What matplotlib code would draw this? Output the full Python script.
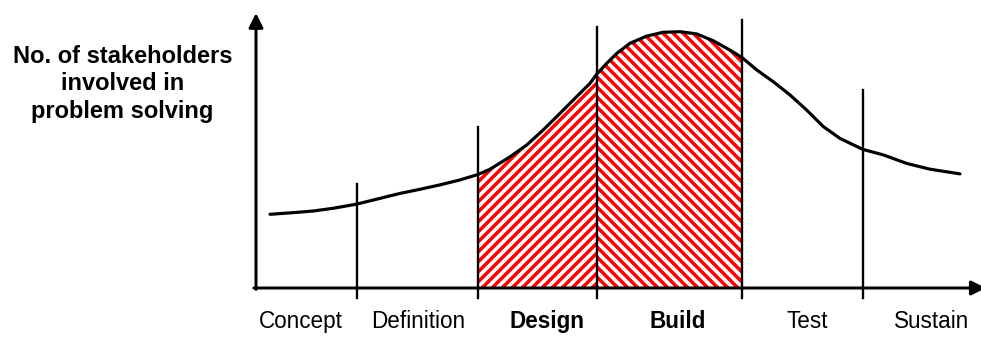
import numpy as np
import matplotlib.pyplot as plt

plt.rcParams['font.family'] = ['Liberation Sans', 'DejaVu Sans']
plt.rcParams['hatch.color'] = 'red'
plt.rcParams['hatch.linewidth'] = 2.1

# project timeline (0-100) and stakeholder involvement (0-100)
t = np.array([1.95, 5.19, 7.97, 10.76, 14.0, 16.79, 20.03, 22.81, 25.59, 28.37,
              30.9, 32.55, 35.33, 37.65, 39.96, 42.28, 44.60, 46.45, 47.4,
              48.78, 50.17, 52.02, 54.34, 56.65, 59.0, 61.29, 63.60, 65.92,
              67.6, 69.64, 71.95, 74.27, 76.59, 78.90, 81.22, 84.4, 87.25,
              90.50, 93.74, 97.91])
involvement = np.array([26.8, 27.4, 28.0, 29.0, 30.5, 32.3, 34.4, 35.9, 37.5, 39.3,
                        41.3, 43.2, 47.7, 52.0, 57.5, 63.5, 69.6, 74.4, 77.8,
                        81.7, 85.3, 89.0, 91.6, 93.0, 93.2, 92.4, 89.9, 86.5,
                        83.8, 79.3, 75.0, 70.2, 64.7, 58.7, 54.4, 50.4, 48.4,
                        45.3, 43.2, 41.5])

# phase boundaries and how tall each divider is drawn
boundaries = [14.0, 30.9, 47.4, 67.6, 84.4]
divider_tops = [37.8, 58.5, 94.9, 97.5, 72.0]

phases = ['Concept', 'Definition', 'Design', 'Build', 'Test', 'Sustain']
phase_label_x = [6.3, 22.5, 40.5, 58.7, 76.6, 93.9]
bold_phases = ['Design', 'Build']

fig = plt.figure(figsize=(981 / 120, 337 / 120), dpi=120)
ax = fig.add_axes([256 / 981, 49 / 337, 719 / 981, 275 / 337])
ax.set_xlim(0, 100)
ax.set_ylim(0, 100)
ax.axis('off')

# hatched design and build phases under the curve
design = (t >= boundaries[1]) & (t <= boundaries[2])
build = (t >= boundaries[2]) & (t <= boundaries[3])
ax.fill_between(t, 0, involvement, where=design, facecolor='white',
                edgecolor='red', linewidth=0, hatch='////', zorder=1)
ax.fill_between(t, 0, involvement, where=build, facecolor='white',
                edgecolor='red', linewidth=0, hatch='\\\\\\\\', zorder=1)

ax.plot(t, involvement, color='black', lw=1.9, solid_joinstyle='round',
        solid_capstyle='round', zorder=3)

for b, top in zip(boundaries, divider_tops):
    ax.plot([b, b], [-3.8, top], color='black', lw=1.4, clip_on=False, zorder=2)

# axes with arrow heads
arrow = dict(arrowstyle='-|>', lw=1.8, color='black', mutation_scale=18,
             shrinkA=0, shrinkB=0)
ax.annotate('', xy=(0, 100), xytext=(0, -0.5), arrowprops=arrow,
            annotation_clip=False, zorder=4)
ax.annotate('', xy=(101.5, 0), xytext=(-0.3, 0), arrowprops=arrow,
            annotation_clip=False, zorder=4)

for name, x in zip(phases, phase_label_x):
    ax.text(x, -14.5, name, ha='center', va='baseline', fontsize=13.5,
            fontweight='bold' if name in bold_phases else 'normal', clip_on=False)

ax.text(-18.6, 74.2, 'No. of stakeholders\ninvolved in\nproblem solving',
        ha='center', va='center', multialignment='center', fontsize=14.2,
        fontweight='bold', linespacing=1.25, clip_on=False)

fig.savefig('out.png', dpi=120)
